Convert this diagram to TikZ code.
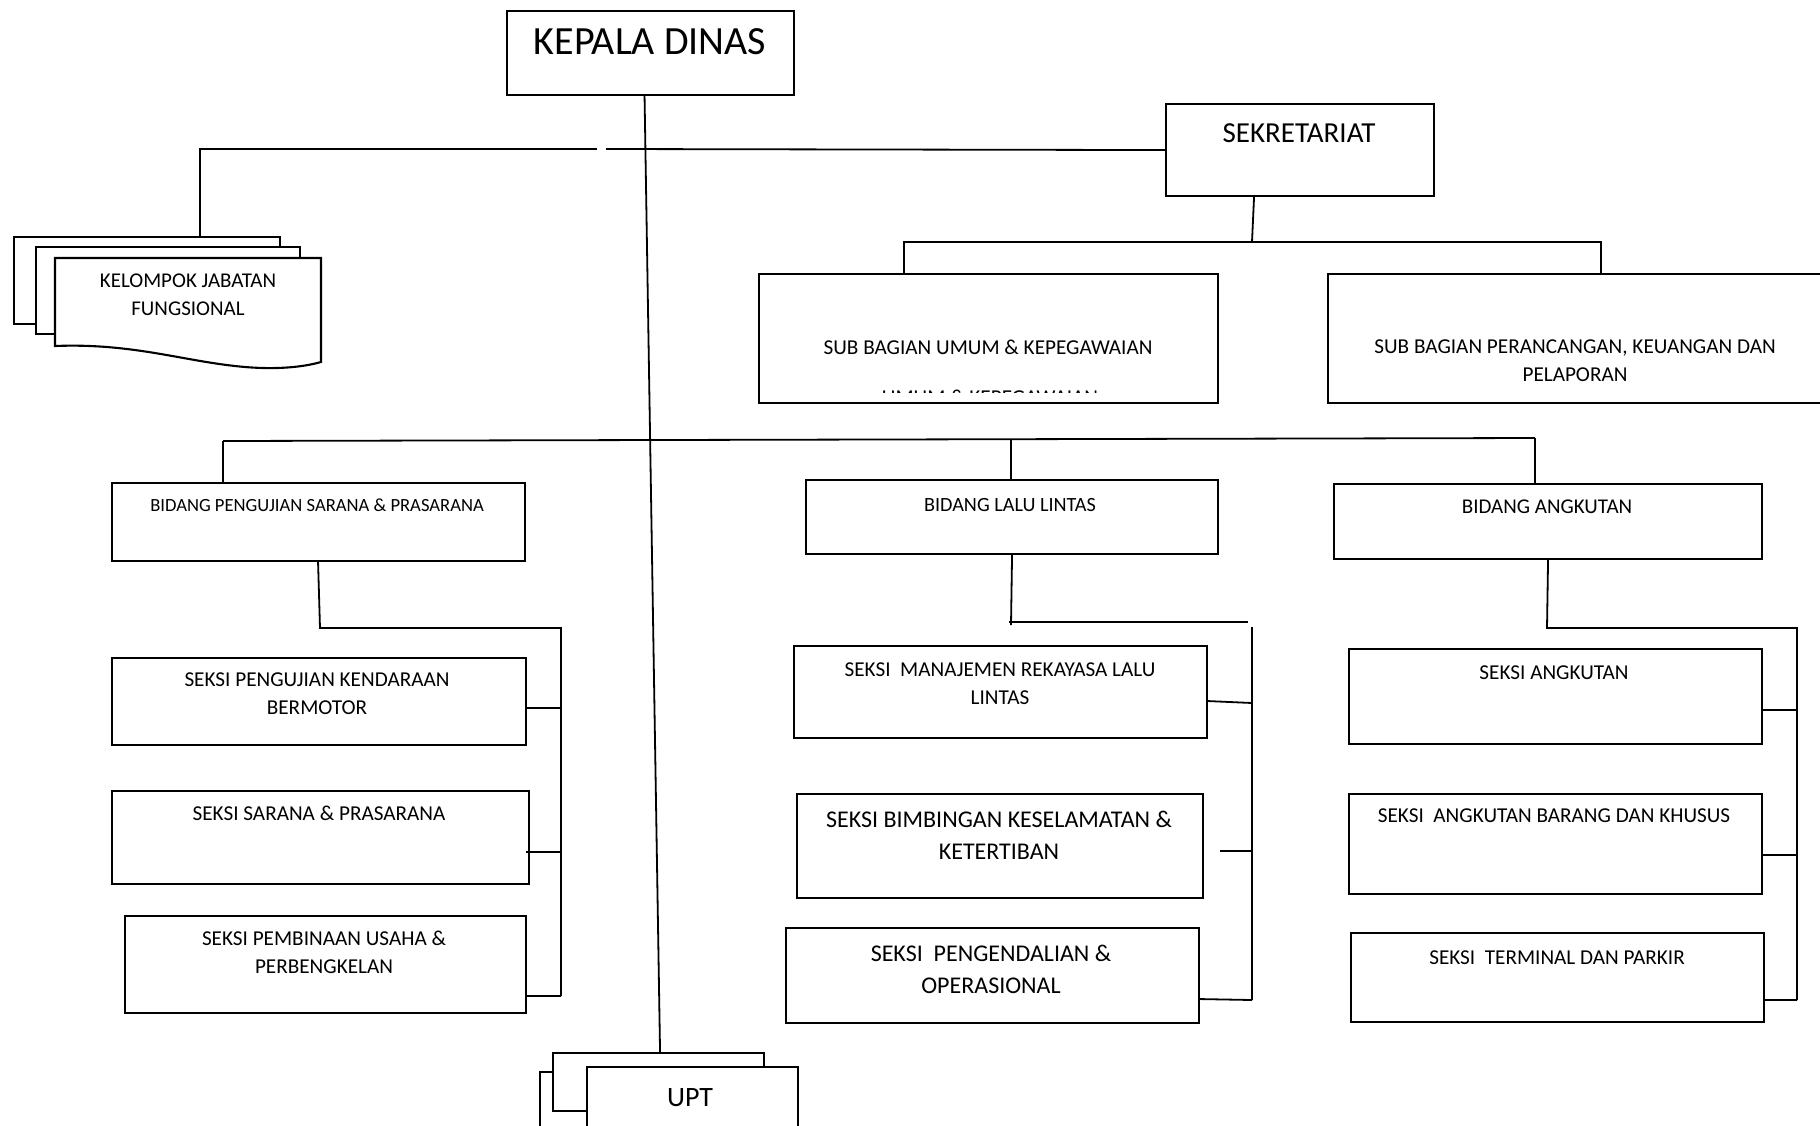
\documentclass[tikz,border=0pt]{standalone}
\usepackage{fontspec}
\setmainfont{Carlito}
\begin{document}
\begin{tikzpicture}[x=1pt,y=-1pt,
  box/.style={draw,line width=2.1pt,fill=white,rectangle,inner sep=0pt,anchor=north west},
  sheet/.style={draw,line width=2.1pt,fill=white},
  ln/.style={line width=1.8pt},
  lbl/.style={anchor=north,align=center,inner sep=0pt},
  f40/.style={font=\fontsize{40}{48}\selectfont},
  f29/.style={font=\fontsize{29}{35}\selectfont},
  f28/.style={font=\fontsize{28}{34}\selectfont},
  f24/.style={font=\fontsize{24}{31.5}\selectfont},
  f21/.style={font=\fontsize{21.2}{28}\selectfont},
  f20/.style={font=\fontsize{21}{28}\selectfont},
  f19/.style={font=\fontsize{20.2}{24}\selectfont},
  fba/.style={font=\fontsize{21}{24}\selectfont},
  f175/.style={font=\fontsize{18.6}{22}\selectfont}
]
\useasboundingbox (0,0) rectangle (1820,1125);
\fill[white] (0,0) rectangle (1820,1125);

% ---------- KEPALA DINAS ----------
\node[box,minimum width=287pt,minimum height=84pt] (kd) at (506,10) {};
\node[lbl,f40] (kdt) at (650,28) {KEPALA DINAS};

% ---------- SEKRETARIAT ----------
\node[box,minimum width=268pt,minimum height=92pt] (sek) at (1165,103) {};
\node[lbl,f29] (sekt) at (1299,123) {SEKRETARIAT};

% ---------- KELOMPOK JABATAN FUNGSIONAL (multi-document) ----------
\node[box,minimum width=266pt,minimum height=87pt] (kb) at (13,236) {};
\node[box,minimum width=264pt,minimum height=87pt] (km) at (35,246) {};
\draw[sheet] (55,258) -- (321,258) -- (321,362)
  .. controls (300,368) and (270,370) .. (235,366)
  .. controls (180,360) and (130,343) .. (55,346) -- cycle;
\node[lbl,f20] (kft) at (188,274) {KELOMPOK JABATAN\\FUNGSIONAL};

% top connector line (with small gap)
\coordinate (kj) at (200,149);
\coordinate (gapL) at (597,149);
\coordinate (gapR) at (606,149);
\draw[ln] (sek.west) -- (gapR);
\draw[ln] (gapL) -- (kj) -- (kj |- kb.north);

% ---------- SUB BAGIAN ----------
\node[box,minimum width=459pt,minimum height=129pt] (sbu) at (758,273) {};
\node[lbl,f21] (sbut) at (988,340) {SUB BAGIAN UMUM \& KEPEGAWAIAN};
\begin{scope}
  \clip (860,388.5) rectangle (1120,392.6);
  \node[lbl,f21] (sbug) at (990,389.6) {UMUM \& KEPEGAWAIAN};
\end{scope}
\node[box,minimum width=496pt,minimum height=129pt] (sbp) at (1327,273) {};
\node[lbl,f21] (sbpt) at (1575,340) {SUB BAGIAN PERANCANGAN, KEUANGAN DAN\\PELAPORAN};

\coordinate (sekb) at (1252,242);
\coordinate (sbuL) at (904,242);
\coordinate (sbpR) at (1601,242);
\draw[ln] ([xshift=-46pt]sek.south) -- (sekb);
\draw[ln] (sbuL |- sbu.north) -- (sbuL) -- (sbpR) -- (sbpR |- sbp.north);

% ---------- BIDANG ----------
\node[box,minimum width=413pt,minimum height=78pt] (bps) at (111,482) {};
\node[lbl,f175] (bpst) at (317,499) {BIDANG PENGUJIAN SARANA \& PRASARANA};
\node[box,minimum width=412pt,minimum height=74pt] (bll) at (805,479) {};
\node[lbl,f19] (bllt) at (1010,498) {BIDANG LALU LINTAS};
\node[box,minimum width=428pt,minimum height=75pt] (ba) at (1333,483) {};
\node[lbl,fba] (bat) at (1547,500) {BIDANG ANGKUTAN};

\coordinate (bbL) at (223,441);
\coordinate (bbM) at (1011,439.5);
\coordinate (bbR) at (1535,438);
\draw[ln] (bbL) -- (bbR);
\draw[ln] (bbL) -- (bbL |- bps.north);
\draw[ln] (bbM) -- (bbM |- bll.north);
\draw[ln] (bbR) -- (bbR |- ba.north);

% ---------- SEKSI (left) ----------
\node[box,minimum width=414pt,minimum height=87pt] (s1) at (111,657) {};
\node[lbl,f21] (s1t) at (317,673) {SEKSI PENGUJIAN KENDARAAN\\BERMOTOR};
\node[box,minimum width=417pt,minimum height=93pt] (s2) at (111,790) {};
\node[lbl,f21] (s2t) at (319,806) {SEKSI SARANA \& PRASARANA};
\node[box,minimum width=401pt,minimum height=97pt] (s3) at (124,915) {};
\node[lbl,f21] (s3t) at (324,931) {SEKSI PEMBINAAN USAHA \&\\PERBENGKELAN};

\coordinate (lb0) at (320,628);
\coordinate (lbT) at (561,628);
\coordinate (lb1) at (561,708);
\coordinate (lb2) at (561,852);
\coordinate (lb3) at (561,996);
\draw[ln] ([xshift=-0.5pt]bps.south) -- (lb0) -- (lbT) -- (lb3);
\draw[ln] (lb1) -- (lb1 -| s1.east);
\draw[ln] (lb2) -- ([xshift=-4pt]lb2 -| s2.east);
\draw[ln] (lb3) -- (lb3 -| s3.east);

% ---------- SEKSI (middle) ----------
\node[box,minimum width=413pt,minimum height=92pt] (m1) at (793,645) {};
\node[lbl,f21] (m1t) at (1000,663) {SEKSI\ \ MANAJEMEN REKAYASA LALU\\LINTAS};
\node[box,minimum width=406pt,minimum height=104pt] (m2) at (796,793) {};
\node[lbl,f24] (m2t) at (999,811) {SEKSI BIMBINGAN KESELAMATAN \&\\KETERTIBAN};
\node[box,minimum width=413pt,minimum height=95pt] (m3) at (785,927) {};
\node[lbl,f24] (m3t) at (991,945) {SEKSI\ \ PENGENDALIAN \&\\OPERASIONAL};

\coordinate (mb0) at (1011,625);
\coordinate (mbA) at (1009,622);
\coordinate (mbB) at (1248,622);
\coordinate (mbT) at (1252,627);
\coordinate (mb1) at (1252,703);
\coordinate (mb2) at (1252,851);
\coordinate (mb3) at (1252,1000);
\coordinate (m2c) at (1219.5,851);
\draw[ln] (bll.south) -- (mb0);
\draw[ln] (mbA) -- (mbB);
\draw[ln] (mbT) -- (mb3);
\draw[ln] ([yshift=-9pt]m1.east) -- (mb1);
\draw[ln] (m2c) -- (mb2);
\draw[ln] ([yshift=-23.5pt]m3.east) -- (mb3);

% ---------- SEKSI (right) ----------
\node[box,minimum width=413pt,minimum height=95pt] (a1) at (1348,648) {};
\node[lbl,f21] (a1t) at (1554,666) {SEKSI ANGKUTAN};
\node[box,minimum width=413pt,minimum height=100pt] (a2) at (1348,793) {};
\node[lbl,f21] (a2t) at (1554,809) {SEKSI\ \ ANGKUTAN BARANG DAN KHUSUS};
\node[box,minimum width=413pt,minimum height=89pt] (a3) at (1350,932) {};
\node[lbl,f21] (a3t) at (1557,951) {SEKSI\ \ TERMINAL DAN PARKIR};

\coordinate (rb0) at (1547,628);
\coordinate (rbT) at (1797,628);
\coordinate (rb1) at (1797,710);
\coordinate (rb2) at (1797,855);
\coordinate (rb3) at (1797,1000);
\draw[ln] (ba.south) -- (rb0) -- (rbT) -- (rb3);
\draw[ln] (rb1) -- (rb1 -| a1.east);
\draw[ln] (rb2) -- (rb2 -| a2.east);
\draw[ln] (rb3) -- ([xshift=-2pt]rb3 -| a3.east);

% ---------- UPT (multi-document) ----------
\node[box,minimum width=60pt,minimum height=90pt] (ub) at (539,1071) {};
\node[box,minimum width=211pt,minimum height=58pt] (um) at (552,1052) {};
\node[box,minimum width=211pt,minimum height=80pt] (uf) at (586,1066) {};
\node[lbl,f28] (uft) at (690,1088) {UPT};

% KEPALA DINAS main vertical line
\draw[ln] ([xshift=-6pt]kd.south) -- ([xshift=1.5pt]um.north);

\end{tikzpicture}
\end{document}
